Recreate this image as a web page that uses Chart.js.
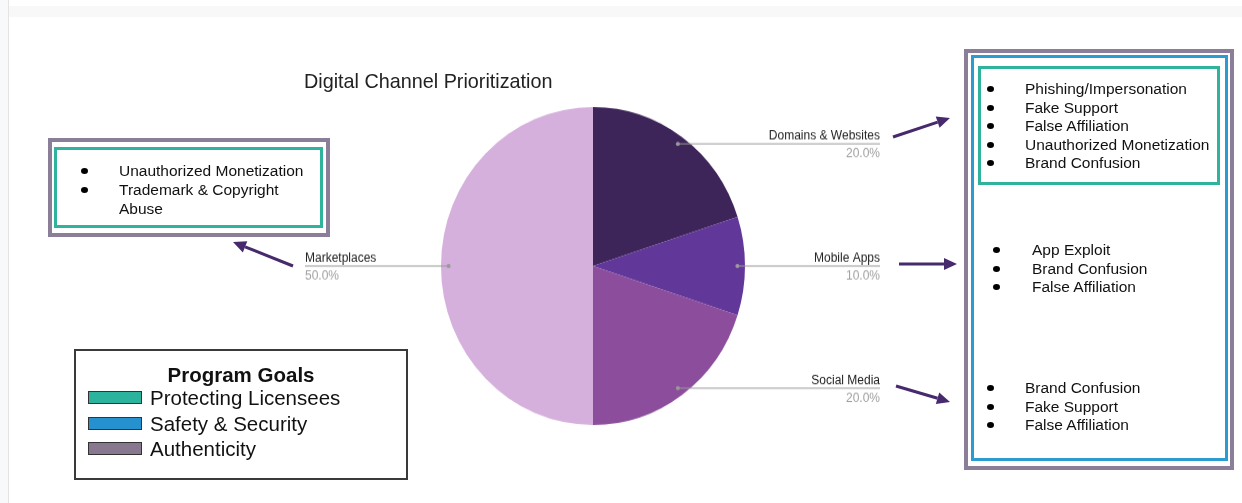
<!DOCTYPE html>
<html>
<head>
<meta charset="utf-8">
<script src="https://cdn.jsdelivr.net/npm/chart.js@4.4.0/dist/chart.umd.min.js"></script>
<style>
  body { margin: 0; width: 1242px; height: 503px; overflow: hidden; background: #fff; position: relative;
         font-family: "Liberation Sans", Arial, sans-serif; color: #111; }
  #chart { position: absolute; left: 0; top: 0; transform: scaleY(1.046); transform-origin: 0 266px; }
  #arrows { position: absolute; left: 0; top: 0; }
  .abs { position: absolute; box-sizing: border-box; }
  .line { position: absolute; font-size: 15.5px; white-space: nowrap; line-height: 18px; }
  .dot { position: absolute; width: 7px; height: 6px; border-radius: 50%; background: #000; }
</style>
</head>
<body>
<div class="abs" style="left:0;top:0;width:9px;height:503px;background:#f8f9fa;border-right:1px solid #e4e4e4"></div>
<div class="abs" style="left:9px;top:6px;width:1233px;height:11px;background:#f8f8f8"></div>

<canvas id="chart" width="1242" height="503"></canvas>
<svg id="arrows" width="1242" height="503"></svg>

<div class="abs" style="left:304px;top:70px;font-size:19.8px;color:#222;white-space:nowrap">Digital Channel Prioritization</div>

<!-- left box -->
<div class="abs" style="left:48px;top:138px;width:282px;height:99px;border:4px solid #8b7e98"></div>
<div class="abs" style="left:54px;top:147px;width:269px;height:81px;border:3px solid #2fb39c"></div>

<!-- right boxes -->
<div class="abs" style="left:964px;top:49px;width:270px;height:421px;border:4px solid #8b7e98"></div>
<div class="abs" style="left:971px;top:55px;width:257px;height:406px;border:3px solid #2b9bd0"></div>
<div class="abs" style="left:978px;top:66px;width:242px;height:119px;border:3px solid #2fb39c"></div>

<!-- legend -->
<div class="abs" style="left:74px;top:349px;width:334px;height:131px;border:2px solid #3a3a3a"></div>
<div class="abs" style="left:74px;top:363px;width:334px;text-align:center;font-size:20.5px;font-weight:bold;color:#111">Program Goals</div>
<div id="legend"></div>

<div id="lists"></div>

<script>
// pie data
const channels = ['Domains & Websites', 'Mobile Apps', 'Social Media', 'Marketplaces'];
const shares = [20, 10, 20, 50];
const sliceColors = ['#3d2459', '#62379a', '#8c4e9c', '#d5b0dc'];

// goal legend
const goalNames = ['Protecting Licensees', 'Safety & Security', 'Authenticity'];
const goalColors = ['#2bb39d', '#2592cf', '#87788f'];

// risk lists in the boxes
const marketplaceRisks = ['Unauthorized Monetization', 'Trademark & Copyright', 'Abuse'];
const domainRisks = ['Phishing/Impersonation', 'Fake Support', 'False Affiliation', 'Unauthorized Monetization', 'Brand Confusion'];
const mobileRisks = ['App Exploit', 'Brand Confusion', 'False Affiliation'];
const socialRisks = ['Brand Confusion', 'Fake Support', 'False Affiliation'];

function addList (items, bulletX, textX, top, step, noBullet) {
  const box = document.getElementById('lists');
  items.forEach((t, i) => {
    const y = top + i * step;
    const el = document.createElement('div');
    el.className = 'line';
    el.style.left = textX + 'px';
    el.style.top = (y - 9) + 'px';
    el.textContent = t;
    box.appendChild(el);
    if (!(noBullet && noBullet.includes(i))) {
      const d = document.createElement('div');
      d.className = 'dot';
      d.style.left = (bulletX - 3.5) + 'px';
      d.style.top = (y - 3) + 'px';
      box.appendChild(d);
    }
  });
}

addList(marketplaceRisks, 84, 119, 171, 19, [2]);
addList(domainRisks, 990, 1025, 89, 18.6);
addList(mobileRisks, 996, 1032, 250, 18.6);
addList(socialRisks, 990, 1025, 388, 18.6);

const legend = document.getElementById('legend');
goalNames.forEach((g, i) => {
  const y = 397 + i * 25.5;
  const sw = document.createElement('div');
  sw.className = 'abs';
  sw.style.cssText = `left:88px;top:${y - 6}px;width:54px;height:13px;background:${goalColors[i]};border:1px solid #333`;
  legend.appendChild(sw);
  const tx = document.createElement('div');
  tx.className = 'abs';
  tx.style.cssText = `left:150px;top:${y - 11}px;font-size:20.5px;line-height:24px;color:#111;white-space:nowrap`;
  tx.textContent = g;
  legend.appendChild(tx);
});

// arrows pointing from the pie labels to the boxes
const arrows = [
  [[293, 266], [233, 242]],
  [[893, 137], [950, 118]],
  [[899, 264], [957, 264]],
  [[896, 386], [950, 402]]
];
const svg = document.getElementById('arrows');
arrows.forEach(([a, b]) => {
  const ang = Math.atan2(b[1] - a[1], b[0] - a[0]);
  const hl = 13;
  const bx = b[0] - Math.cos(ang) * hl;
  const by = b[1] - Math.sin(ang) * hl;
  const px = Math.cos(ang + Math.PI / 2) * 6;
  const py = Math.sin(ang + Math.PI / 2) * 6;
  svg.insertAdjacentHTML('beforeend',
    `<line x1="${a[0]}" y1="${a[1]}" x2="${bx}" y2="${by}" stroke="#472a6e" stroke-width="3"/>` +
    `<polygon points="${b[0]},${b[1]} ${bx + px},${by + py} ${bx - px},${by - py}" fill="#472a6e"/>`);
});

const labelRightX = 880;
const labelLeftX = 305;

const leaderPlugin = {
  id: 'leaders',
  afterDraw (chart) {
    const ctx = chart.ctx;
    const total = shares.reduce((a, b) => a + b, 0);
    chart.getDatasetMeta(0).data.forEach((arc, i) => {
      const mid = (arc.startAngle + arc.endAngle) / 2;
      const r = arc.outerRadius * 0.95;
      const dx = arc.x + Math.cos(mid) * r;
      const dy = arc.y + Math.sin(mid) * r;
      const right = Math.cos(mid) >= 0;
      const endX = right ? labelRightX : labelLeftX;
      ctx.save();
      ctx.strokeStyle = '#9a9a9a';
      ctx.lineWidth = 1;
      ctx.beginPath();
      ctx.moveTo(dx, dy);
      ctx.lineTo(endX, dy);
      ctx.stroke();
      ctx.fillStyle = '#9a9a9a';
      ctx.beginPath();
      ctx.arc(dx, dy, 2, 0, Math.PI * 2);
      ctx.fill();
      ctx.font = '12px "Liberation Sans", Arial, sans-serif';
      ctx.textAlign = right ? 'right' : 'left';
      ctx.textBaseline = 'alphabetic';
      ctx.fillStyle = '#222';
      ctx.fillText(channels[i], endX, dy - 4);
      ctx.fillStyle = '#a0a0a0';
      ctx.fillText((shares[i] / total * 100).toFixed(1) + '%', endX, dy + 13);
      ctx.restore();
    });
  }
};

new Chart(document.getElementById('chart').getContext('2d'), {
  type: 'pie',
  data: {
    labels: channels,
    datasets: [{
      data: shares,
      backgroundColor: sliceColors,
      borderWidth: 0
    }]
  },
  options: {
    responsive: false,
    animation: false,
    layout: { padding: { left: 441, right: 497, top: 114, bottom: 85 } },
    plugins: { legend: { display: false }, tooltip: { enabled: false } }
  },
  plugins: [leaderPlugin]
});
</script>
</body>
</html>
